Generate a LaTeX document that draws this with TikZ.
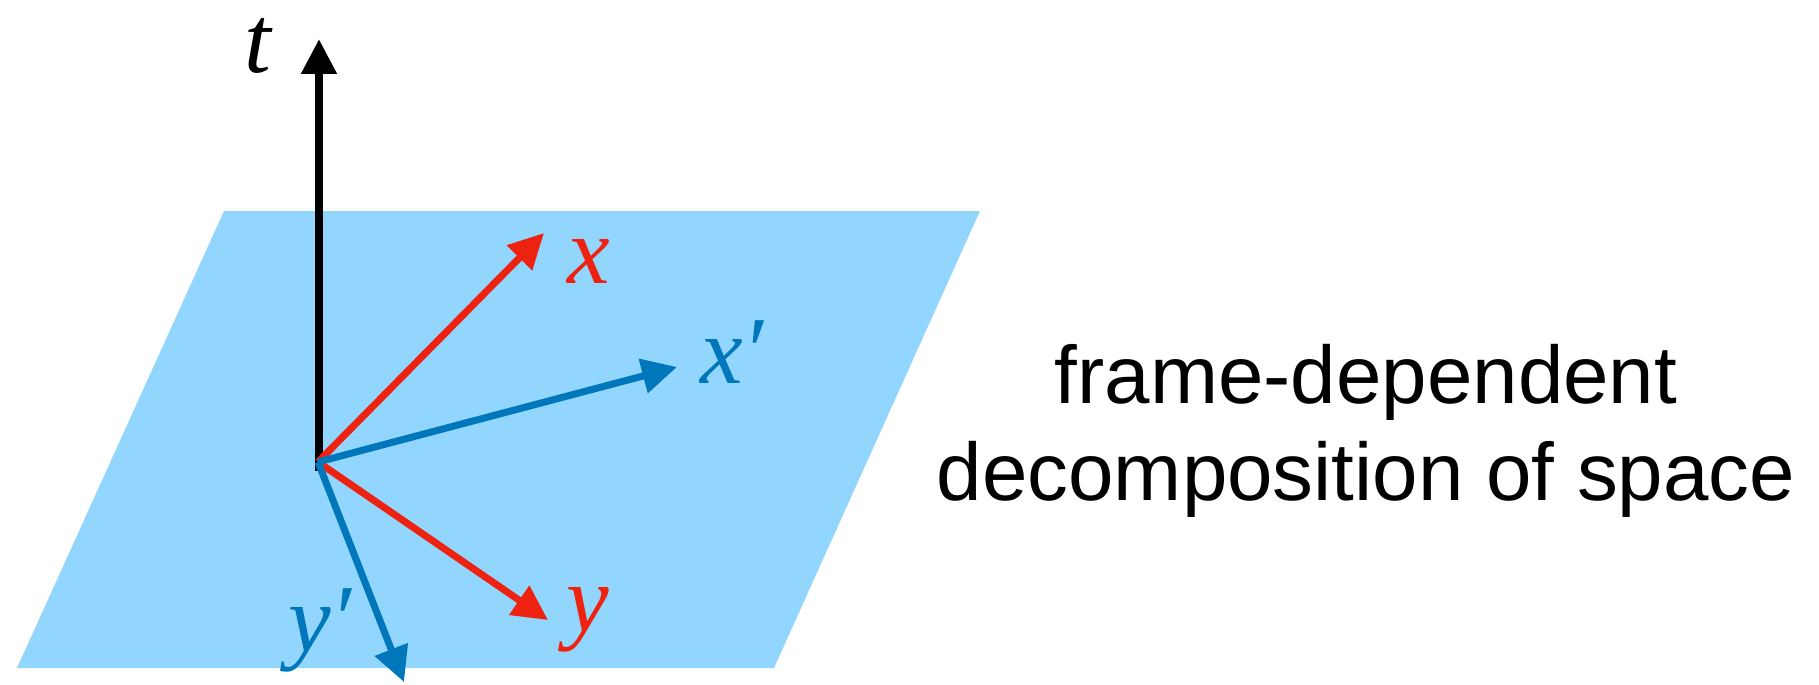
\documentclass[tikz,border=0pt]{standalone}
\usepackage{fontspec}
\setmainfont{Liberation Sans}
\newfontfamily\axisfont{Liberation Serif}
\definecolor{stred}{RGB}{238,34,17}
\definecolor{stblue}{RGB}{0,119,187}
\definecolor{stplane}{RGB}{146,214,253}
\usetikzlibrary{arrows.meta}

\begin{document}
\begin{tikzpicture}[x=0.02cm,y=-0.02cm,
  vec/.style={line width=0.14cm,-{Triangle[length=0.7cm,width=0.68cm]}},
  vlabel/.style={font=\axisfont\itshape\fontsize{54.6}{60}\selectfont,anchor=base,inner sep=0pt}
]
  \useasboundingbox (0,0) rectangle (1819,684);
  % spatial slice
  \fill[stplane] (224,211) -- (980,211) -- (774,668) -- (17,668) -- cycle;
  % axes
  \coordinate (o) at (318,462);
  \coordinate (tbot) at (319,471);
  \coordinate (ttip) at (319,39);
  \coordinate (xtip) at (544,233);
  \coordinate (ytip) at (548,620);
  \coordinate (xptip) at (677,367);
  \coordinate (yptip) at (404,682);
  \draw[vec,line width=0.16cm,black] (tbot) -- (ttip);
  \draw[vec,stred] (o) -- (xtip);
  \draw[vec,stred] (o) -- (ytip);
  \draw[vec,stblue] (o) -- (xptip);
  \draw[vec,stblue] (o) -- (yptip);
  % labels
  \node[vlabel,text=black] (tlabel) at (258,72) {t};
  \node[vlabel,text=stred] (xlabel) at (589,283) {x};
  \node[vlabel,text=stred] (ylabel) at (588,631) {y};
  \node[vlabel,text=stblue] (xplabel) at (732,383) {x′};
  \node[vlabel,text=stblue] (yplabel) at (320,651) {y′};
  \node[align=center,inner sep=0pt,font=\fontsize{46.5}{55.2}\selectfont] (caption) at (1366,431)
    {frame-dependent\\decomposition of space};
\end{tikzpicture}
\end{document}
